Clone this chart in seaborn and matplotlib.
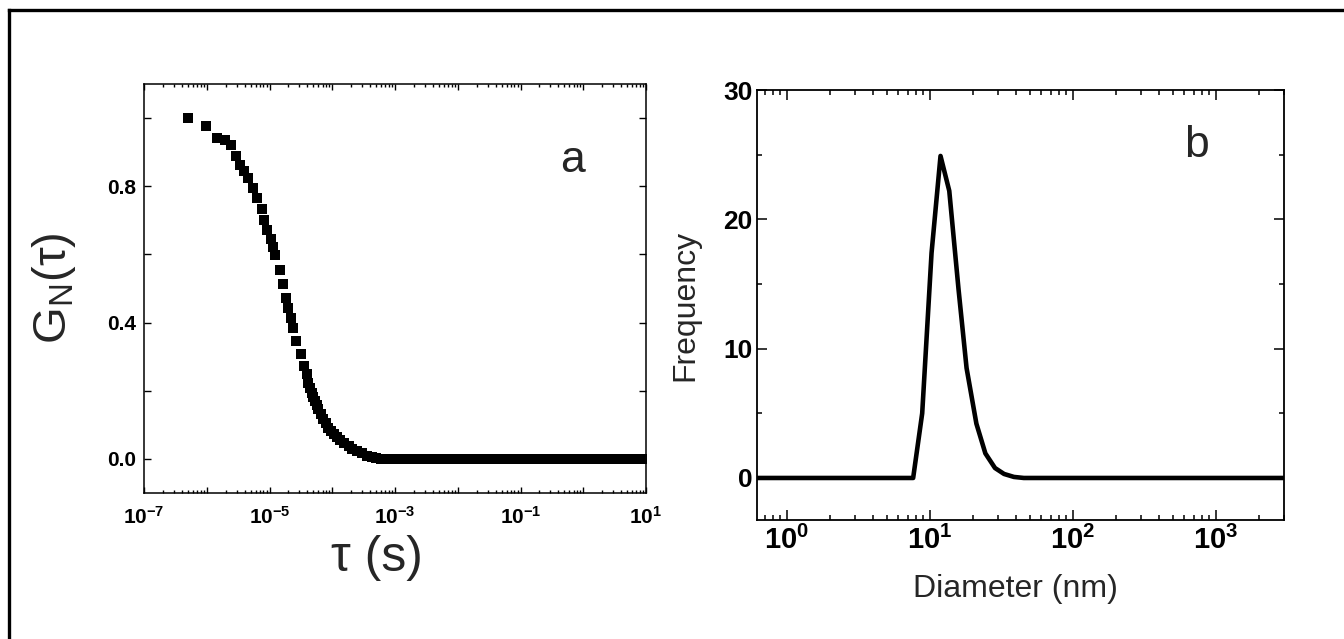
import matplotlib
matplotlib.use("Agg")
import matplotlib.pyplot as plt
from matplotlib import ticker
from matplotlib.lines import Line2D
import seaborn as sns
import pandas as pd
import math

# ---------------- data ----------------
tau_decay_s = [5.0e-7, 9.8e-7, 1.48e-6, 1.95e-6, 2.41e-6, 2.92e-6, 3.39e-6, 3.98e-6,
               4.47e-6, 5.37e-6, 6.31e-6, 7.59e-6, 8.32e-6, 9.2e-6, 1.05e-5, 1.12e-5,
               1.23e-5, 1.45e-5, 1.62e-5, 1.82e-5, 2.0e-5, 2.19e-5, 2.40e-5, 2.69e-5,
               3.16e-5, 3.55e-5, 3.9e-5, 4.17e-5, 4.47e-5, 4.68e-5, 5.0e-5, 5.37e-5,
               5.7e-5, 6.03e-5, 6.6e-5, 7.24e-5, 7.94e-5, 8.71e-5, 9.55e-5, 1.05e-4,
               1.17e-4, 1.32e-4, 1.55e-4, 1.82e-4, 2.09e-4, 2.45e-4, 2.95e-4, 3.55e-4,
               4.27e-4, 5.0e-4]
g_decay = [1.0, 0.977, 0.942, 0.935, 0.92, 0.889, 0.862, 0.845,
           0.825, 0.796, 0.766, 0.732, 0.700, 0.671, 0.644, 0.622,
           0.598, 0.553, 0.514, 0.473, 0.444, 0.413, 0.385, 0.346,
           0.309, 0.273, 0.248, 0.224, 0.208, 0.194, 0.182, 0.170,
           0.158, 0.146, 0.131, 0.116, 0.104, 0.092, 0.082, 0.072,
           0.063, 0.055, 0.046, 0.038, 0.030, 0.023, 0.016, 0.009,
           0.005, 0.002]
tau_tail_s = [6.0e-4, 7.0e-4, 8.0e-4,
              1e-3, 1.25e-3, 1.6e-3, 2e-3, 2.5e-3, 3.2e-3, 4e-3, 5e-3, 6.3e-3, 8e-3,
              1e-2, 1.25e-2, 1.6e-2, 2e-2, 2.5e-2, 3.2e-2, 4e-2, 5e-2, 6.3e-2, 8e-2,
              1e-1, 1.25e-1, 1.6e-1, 2e-1, 2.5e-1, 3.2e-1, 4e-1, 5e-1, 6.3e-1, 8e-1,
              1.0, 1.25, 1.6, 2.0, 2.5, 3.2, 4.0, 5.0, 6.3, 8.0, 10.0]
g_tail = [0.0] * len(tau_tail_s)

diameter_nm = [0.62, 7.66, 8.86, 10.3, 11.9, 13.7, 15.9, 18.1, 21.2, 24.5,
               28.6, 33.1, 38.8, 45.5, 3000.0]
frequency = [0.0, 0.0, 5.0, 17.4, 24.9, 22.2, 14.6, 8.5, 4.2, 1.9,
             0.77, 0.31, 0.08, 0.0, 0.0]

a_yticks = [0.0, 0.4, 0.8]
a_ylabels = ["0.0", "0.4", "0.8"]
a_yminor = [0.2, 0.6, 1.0]
b_yticks = [0, 10, 20, 30]
b_yminor = [5, 15, 25]
b_xticks = [1, 10, 100, 1000]

# ---------------- style ----------------
sns.set_theme(style="ticks")
plt.rcParams["font.family"] = ["Liberation Sans", "DejaVu Sans"]
plt.rcParams["mathtext.fontset"] = "custom"
plt.rcParams["mathtext.rm"] = "Liberation Sans"
plt.rcParams["mathtext.bf"] = "Liberation Sans:bold"
plt.rcParams["mathtext.it"] = "Liberation Sans:italic"
plt.rcParams["axes.edgecolor"] = "black"
plt.rcParams["xtick.color"] = "black"
plt.rcParams["ytick.color"] = "black"

W, H = 1344, 639
fig = plt.figure(figsize=(W / 100, H / 100), dpi=100)
fig.patch.set_facecolor("white")

def axrect(l, t, r, b):
    return [l / W, 1 - b / H, (r - l) / W, (b - t) / H]

axa = fig.add_axes(axrect(144, 84, 646, 493))
axb = fig.add_axes(axrect(757, 90, 1284, 520))

# ---------------- panel a ----------------
df_a = pd.DataFrame({"tau": tau_decay_s + tau_tail_s, "g": g_decay + g_tail})
sns.scatterplot(data=df_a, x="tau", y="g", ax=axa, marker="s", s=44,
                color="black", linewidth=0, legend=False)
axa.set_xscale("log")
axa.set_xlim(1e-7, 10)
axa.set_ylim(-0.1, 1.1)
axa.xaxis.set_major_locator(ticker.LogLocator(base=10, numticks=20))
axa.xaxis.set_minor_locator(ticker.LogLocator(base=10, subs=range(2, 10), numticks=100))

def fmt_a(v, pos):
    e = int(round(math.log10(v)))
    if e % 2 != 0:
        return r"$\mathbf{10^{%d}}$" % e
    return ""

axa.xaxis.set_major_formatter(ticker.FuncFormatter(fmt_a))
axa.xaxis.set_minor_formatter(ticker.NullFormatter())
axa.yaxis.set_major_locator(ticker.FixedLocator(a_yticks))
axa.yaxis.set_minor_locator(ticker.FixedLocator(a_yminor))
axa.yaxis.set_major_formatter(ticker.FixedFormatter(a_ylabels))
axa.tick_params(which="both", direction="in", top=True, right=True, width=1.0)
axa.tick_params(axis="x", which="major", length=4.5, pad=9, labelsize=15)
axa.tick_params(axis="x", which="minor", length=2.2)
axa.tick_params(axis="y", which="both", length=5, pad=6, labelsize=15)
for lab in axa.get_yticklabels():
    lab.set_fontweight("bold")
for sp in axa.spines.values():
    sp.set_linewidth(1.1)
    sp.set_visible(True)
axa.set_xlabel("τ (s)", fontsize=36)
axa.xaxis.set_label_coords(0.464, -0.158)
axa.xaxis.label.set_verticalalignment("center")
axa.set_ylabel(r"$\mathregular{G_N(τ)}$", fontsize=34)
axa.yaxis.set_label_coords(-0.18, 0.5)
axa.yaxis.label.set_verticalalignment("center")
axa.text(0.854, 0.814, "a", transform=axa.transAxes, fontsize=32,
         ha="center", va="center")

# ---------------- panel b ----------------
df_b = pd.DataFrame({"d": diameter_nm, "f": frequency})
sns.lineplot(data=df_b, x="d", y="f", ax=axb, color="black", linewidth=3.3,
             sort=False, legend=False)
axb.set_xscale("log")
axb.set_xlim(0.62, 3000)
axb.set_ylim(-3.25, 30)
axb.xaxis.set_major_locator(ticker.FixedLocator(b_xticks))
axb.xaxis.set_minor_locator(ticker.LogLocator(base=10, subs=range(2, 10), numticks=100))
axb.xaxis.set_major_formatter(ticker.FuncFormatter(
    lambda v, p: r"$\mathbf{10^{%d}}$" % int(round(math.log10(v)))))
axb.xaxis.set_minor_formatter(ticker.NullFormatter())
axb.yaxis.set_major_locator(ticker.FixedLocator(b_yticks))
axb.yaxis.set_minor_locator(ticker.FixedLocator(b_yminor))
axb.tick_params(which="both", direction="in", top=True, right=True, width=1.1)
axb.tick_params(which="major", length=7)
axb.tick_params(which="minor", length=3.5)
axb.tick_params(axis="x", which="major", pad=4, labelsize=21)
axb.tick_params(axis="y", which="major", pad=3, labelsize=19)
for lab in axb.get_yticklabels():
    lab.set_fontweight("bold")
for sp in axb.spines.values():
    sp.set_linewidth(1.3)
    sp.set_visible(True)
axb.set_xlabel("Diameter (nm)", fontsize=23)
axb.xaxis.set_label_coords(0.49, -0.16)
axb.xaxis.label.set_verticalalignment("center")
axb.set_ylabel("Frequency", fontsize=23)
axb.yaxis.set_label_coords(-0.135, 0.5)
axb.yaxis.label.set_verticalalignment("center")
axb.text(0.834, 0.87, "b", transform=axb.transAxes, fontsize=32,
         ha="center", va="center")

# ---------------- outer frame (left and top edges only) ----------------
fx = 8.5 / W
fy = 1 - 10 / H
fig.add_artist(Line2D([fx, fx], [0, fy], transform=fig.transFigure,
                      color="black", linewidth=2.4, solid_capstyle="projecting"))
fig.add_artist(Line2D([fx, 1], [fy, fy], transform=fig.transFigure,
                      color="black", linewidth=2.4, solid_capstyle="projecting"))

fig.savefig("out.png", dpi=100, facecolor="white")
